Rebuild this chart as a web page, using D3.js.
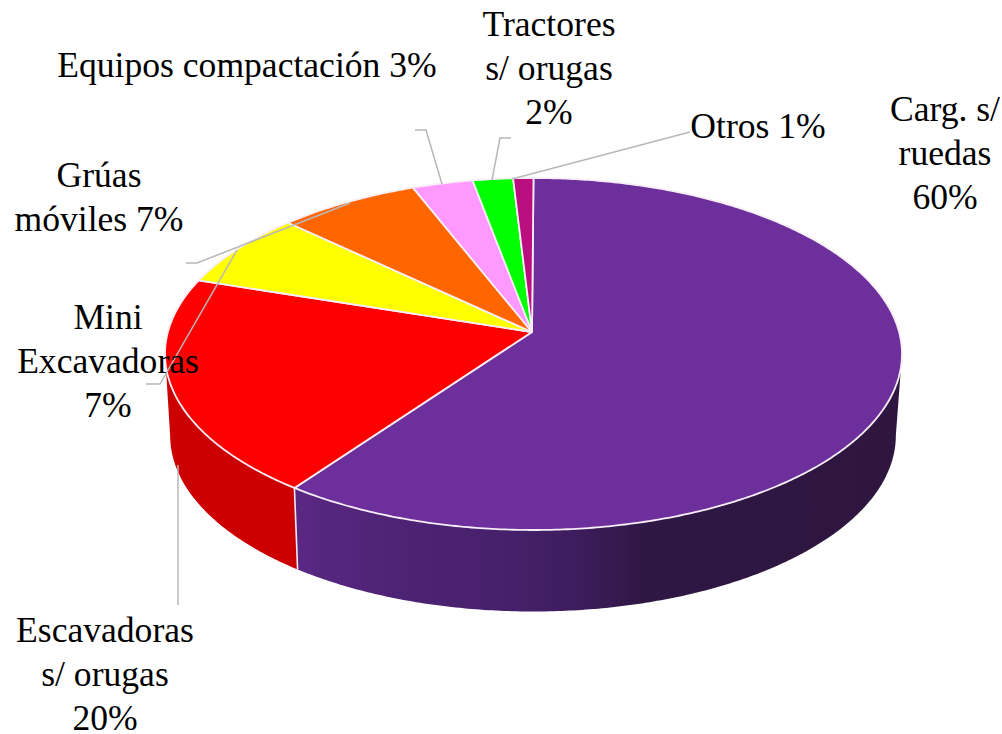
<!DOCTYPE html>
<html><head><meta charset="utf-8">
<script src="https://cdnjs.cloudflare.com/ajax/libs/d3/7.8.5/d3.min.js"></script>
<style>html,body{margin:0;padding:0;background:#fff}svg{display:block}</style>
</head><body><svg id="c" width="1002" height="734"></svg>
<script>
const categories = ["Carg. s/ ruedas","Escavadoras s/ orugas","Mini Excavadoras","Grúas móviles","Equipos compactación","Tractores s/ orugas","Otros"];
const values = [60,20,7,7,3,2,1];
const colors = ["#6d2f9c","#ff0000","#ffff00","#ff6600","#ff99ff","#00ff00","#bb0f80"];
const sideColors = ["url(#sideGrad)","#cc0000","#cccc00","#cc5200","#cc7acc","#00cc00","#960c66"];

const layoutLabels = [
  {lines:["Carg. s/","ruedas","60%"], x:945, y:121},
  {lines:["Escavadoras","s/ orugas","20%"], x:105, y:642},
  {lines:["Mini","Excavadoras","7%"], x:108, y:329},
  {lines:["Grúas","móviles 7%"], x:99, y:187},
  {lines:["Equipos compactación 3%"], x:247, y:77},
  {lines:["Tractores","s/ orugas","2%"], x:549, y:36},
  {lines:["Otros 1%"], x:758, y:138}
];
const leaders = [
  [[178,465],[178,605]],
  [[146,384],[160,384],[237,250]],
  [[186,263],[197,263],[350,203]],
  [[415,130],[426,130],[442,184]],
  [[511,138],[500,138],[492,180]],
  [[690,132],[512,179]]
];

const svg = d3.select("#c");
const defs = svg.append("defs");
const g = defs.append("linearGradient").attr("id","sideGrad").attr("gradientUnits","userSpaceOnUse")
  .attr("x1",296).attr("x2",900).attr("y1",0).attr("y2",0);
[[0,"#5a2883"],[0.17,"#4d2374"],[0.35,"#47206b"],[0.45,"#3f1d60"],[0.58,"#2f1744"],[1,"#2e1640"]]
  .forEach(s=>g.append("stop").attr("offset",s[0]).attr("stop-color",s[1]));

const K = 0.125;
const proj = (cx,cy,a,b) => t => {
  const u = Math.sin(t), v = -Math.cos(t), w = 1 - K*v;
  return [cx + b*u/w, cy + a*v/w];
};
const top_ = proj(533.5,332,173.25,365.6);
const bot = proj(533,413.5,173.25,360);
const line = d3.line();
const arcPts = (f,t0,t1) => {
  const n = Math.max(2,Math.ceil(Math.abs(t1-t0)/0.01));
  return d3.range(n+1).map(i=>f(t0+(t1-t0)*i/n));
};

const arcs = d3.pie().sort(null).value(d=>d)(values);

// rim: visible front portion only, from the right extreme to the left extreme
const visA = Math.acos(-K), visStart = visA, visEnd = 2*Math.PI - visA;
const rim = svg.append("g");
arcs.forEach((d,i)=>{
  const a0 = Math.max(d.startAngle,visStart), a1 = Math.min(d.endAngle,visEnd);
  if(a1<=a0) return;
  const pts = arcPts(top_,a0,a1).concat(arcPts(bot,a1,a0));
  rim.append("path").attr("d",line(pts)+"Z").attr("fill",sideColors[i]);
});
// seam between the two front slices
rim.append("path").attr("d",line([top_(arcs[0].endAngle),bot(arcs[0].endAngle)]))
  .attr("stroke","#f3e9f5").attr("stroke-width",1.6).attr("fill","none");

// top face
const apex = [532,332];
const face = svg.append("g");
arcs.forEach((d,i)=>{
  const pts = [apex].concat(arcPts(top_,d.startAngle,d.endAngle));
  face.append("path").attr("d",line(pts)+"Z").attr("fill",colors[i])
    .attr("stroke","#f7eef7").attr("stroke-width",1.8).attr("stroke-linejoin","round");
});

// leader lines
svg.append("g").selectAll("path").data(leaders).join("path")
  .attr("d",d=>line(d)).attr("fill","none").attr("stroke","#b8b8b8").attr("stroke-width",1.5);

// labels
const txt = svg.append("g").attr("font-family","'Liberation Serif',serif").attr("font-size",35.6).attr("fill","#000").attr("text-anchor","middle");
layoutLabels.forEach(l=>{
  l.lines.forEach((s,i)=>txt.append("text").attr("x",l.x).attr("y",l.y+i*44).text(s));
});
</script></body></html>
